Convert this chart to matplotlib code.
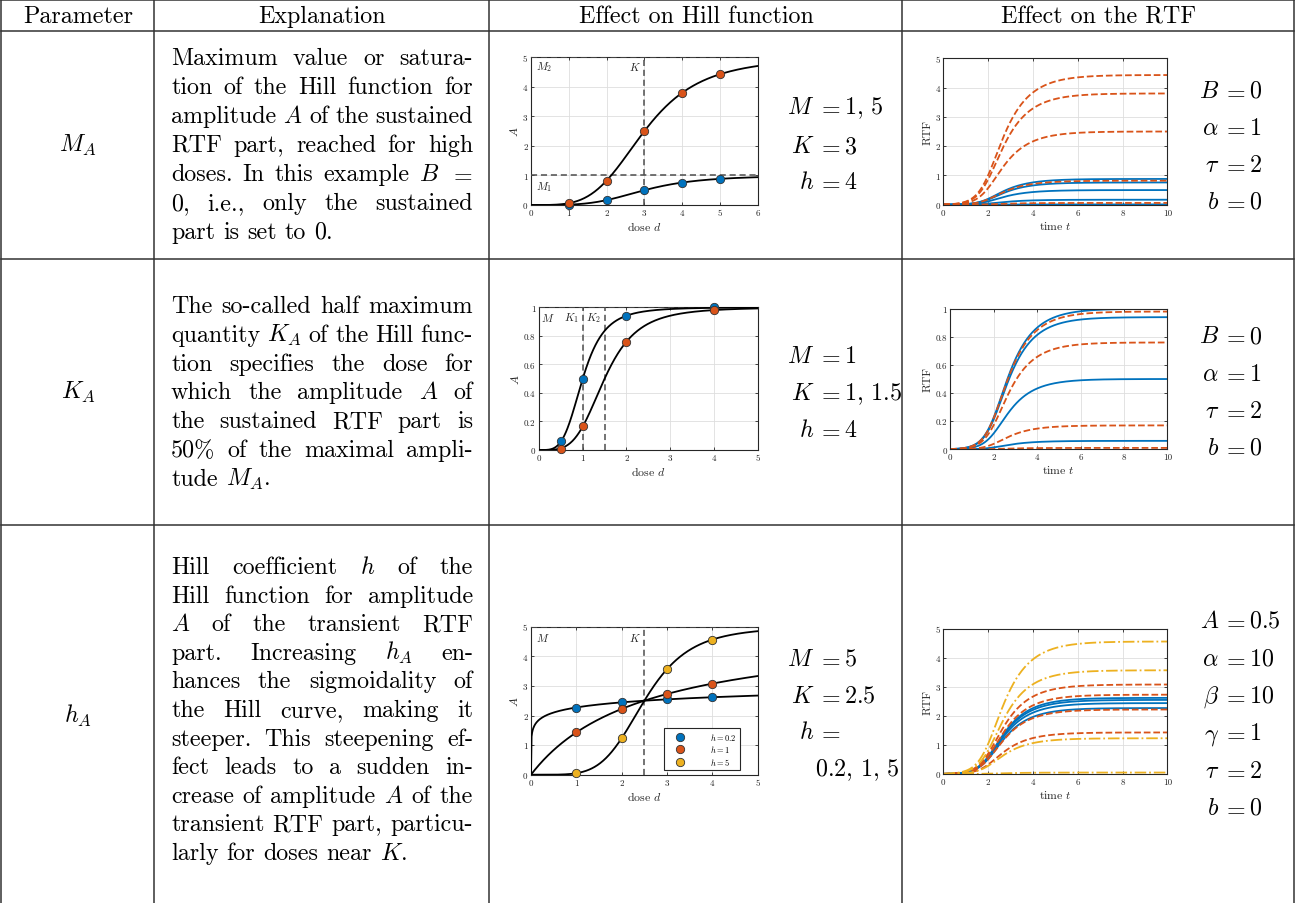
import numpy as np
import matplotlib
matplotlib.use("Agg")
import matplotlib.pyplot as plt
from matplotlib.lines import Line2D

plt.rcParams.update({
    "font.family": ["cmr10", "DejaVu Serif"],
    "mathtext.fontset": "cm",
    "axes.formatter.use_mathtext": True,
    "axes.unicode_minus": False,
})

# ---------------- data ----------------
headers = ["Parameter", "Explanation", "Effect on Hill function", "Effect on the RTF"]
param_names = [r"$M_A$", r"$K_A$", r"$h_A$"]

# Row 1: M varies
h1_M = [1, 5]
h1_K = 3
h1_h = 4
h1_dose = [1, 2, 3, 4, 5]
h1_A_M1 = [0.01, 0.17, 0.5, 0.76, 0.88]
h1_A_M2 = [0.06, 0.82, 2.5, 3.8, 4.43]

# Row 2: K varies
h2_M = 1
h2_K = [1, 1.5]
h2_h = 4
h2_dose = [0.5, 1, 2, 4]
h2_A_K1 = [0.06, 0.5, 0.94, 1.0]
h2_A_K2 = [0.01, 0.17, 0.76, 0.98]

# Row 3: h varies
h3_M = 5
h3_K = 2.5
h3_h = [0.2, 1, 5]
h3_dose = [1, 2, 3, 4]
h3_A_h02 = [2.27, 2.44, 2.55, 2.62]
h3_A_h1 = [1.43, 2.22, 2.73, 3.08]
h3_A_h5 = [0.05, 1.23, 3.57, 4.56]
h3_labels = [r"$h = 0.2$", r"$h = 1$", r"$h = 5$"]

# RTF time-course parameters (shape)
rtf_alpha = 1.0
rtf_tau = 2.0
rtf_sharp = 2.7

expl_rows = [
    ["Maximum value or satura-", "tion of the Hill function for",
     "amplitude $A$ of the sustained", "RTF part, reached for high",
     "doses. In this example $B$ $=$", "0, i.e., only the sustained",
     "part is set to 0."],
    ["The so-called half maximum", "quantity $K_A$ of the Hill func-",
     "tion specifies the dose for", "which the amplitude $A$ of",
     "the sustained RTF part is", "50% of the maximal ampli-",
     "tude $M_A$."],
    ["Hill coefficient $h$ of the", "Hill function for amplitude",
     "$A$ of the transient RTF", "part. Increasing $h_A$ en-",
     "hances the sigmoidality of", "the Hill curve, making it",
     "steeper. This steepening ef-", "fect leads to a sudden in-",
     "crease of amplitude $A$ of the", "transient RTF part, particu-",
     "larly for doses near $K$."],
]

hill_eqs = [
    [("M", r"1,\,5"), ("K", "3"), ("h", "4")],
    [("M", "1"), ("K", r"1,\,1.5"), ("h", "4")],
    [("M", "5"), ("K", "2.5"), ("h", "")],
]
h3_values_text = r"$0.2,\,1,\,5$"
rtf_eqs = [
    [("B", "0"), (r"\alpha", "1"), (r"\tau", "2"), ("b", "0")],
    [("B", "0"), (r"\alpha", "1"), (r"\tau", "2"), ("b", "0")],
    [("A", "0.5"), (r"\alpha", "10"), (r"\beta", "10"), (r"\gamma", "1"),
     (r"\tau", "2"), ("b", "0")],
]

BLUE = "#0072BD"
ORANGE = "#D95319"
YELLOW = "#EDB120"
AXC = "#262626"
REFC = "#4D4D4D"
LINEC = "#333333"

W, H = 1308, 904
fig = plt.figure(figsize=(W / 100, H / 100), dpi=100)
fig.patch.set_facecolor("white")


def fx(x):
    return x / W


def fy(y):
    return 1 - y / H


def hill(d, M, K, h):
    d = np.asarray(d, float)
    return M * d ** h / (d ** h + K ** h)


def rtf_shape(t):
    s = np.log1p(np.exp(rtf_sharp * (t - rtf_tau))) / rtf_sharp
    return 1 - np.exp(-rtf_alpha * s)


# ---------------- table lines ----------------
for y in [1, 31.5, 260, 525.5]:
    fig.add_artist(Line2D([fx(1), fx(1294)], [fy(y), fy(y)], color=LINEC, lw=1.1))
for x in [1, 154, 489, 902, 1294]:
    fig.add_artist(Line2D([fx(x), fx(x)], [fy(1), fy(904)], color=LINEC, lw=1.1))

FS = 17.3
header_x = [78, 322, 696, 1099]
for hx, txt in zip(header_x, headers):
    fig.text(fx(hx), fy(23), txt, fontsize=FS, ha="center", va="baseline")

for y, name in zip([145, 392, 716], param_names):
    fig.text(fx(78), fy(y), name, fontsize=FS, ha="center", va="center")

# ---------------- justified paragraphs ----------------
renderer = fig.canvas.get_renderer()


def paragraph(lines, x0, x1, y0, pitch):
    for i, line in enumerate(lines):
        words = line.split(" ")
        y = y0 + pitch * i
        texts = [fig.text(0, fy(y), w, fontsize=FS, ha="left", va="baseline") for w in words]
        widths = [t.get_window_extent(renderer).width for t in texts]
        if i == len(lines) - 1 or len(words) == 1:
            gap = FS * 100 / 72 * 0.333
        else:
            gap = (x1 - x0 - sum(widths)) / (len(words) - 1)
        x = x0
        for t, wd in zip(texts, widths):
            t.set_x(fx(x))
            x += wd + gap


paragraph(expl_rows[0], 171, 473, 65, 29.0)
paragraph(expl_rows[1], 171, 473, 313, 28.8)
paragraph(expl_rows[2], 171, 473, 574, 28.6)


# ---------------- equation columns ----------------
def eq_block(items, xe, ys):
    for (lhs, rhs), y in zip(items, ys):
        fig.text(fx(xe - 15), fy(y), "$" + lhs + "$", fontsize=FS, ha="right", va="baseline")
        fig.text(fx(xe), fy(y), "$=$", fontsize=FS, ha="center", va="baseline")
        if rhs:
            fig.text(fx(xe + 15), fy(y), "$" + rhs + "$", fontsize=FS, ha="left", va="baseline")


eq_block(hill_eqs[0], 829, [114, 153, 189])
eq_block(hill_eqs[1], 829, [363, 400, 437])
eq_block(hill_eqs[2], 829, [666, 703, 739])
fig.text(fx(815), fy(776), h3_values_text, fontsize=FS, ha="left", va="baseline")

eq_block(rtf_eqs[0], 1234, [98, 135, 172, 209])
eq_block(rtf_eqs[1], 1234, [343, 381, 418, 455])
eq_block(rtf_eqs[2], 1234, [628, 666, 703, 740, 778, 815])


# ---------------- axes helpers ----------------
def add_ax(x0, y0, x1, y1):
    return fig.add_axes([fx(x0), fy(y1), (x1 - x0) / W, (y1 - y0) / H])


def style(ax, xlim, ylim, xticks, yticks, yticklabels, xlabel, ylabel):
    ax.set_xlim(*xlim)
    ax.set_ylim(*ylim)
    ax.set_xticks(xticks)
    ax.set_yticks(yticks)
    ax.set_xticklabels([str(v) for v in xticks])
    ax.set_yticklabels(yticklabels)
    ax.tick_params(direction="in", length=2.5, width=0.6, top=True, right=True,
                   labelsize=6.5, pad=2.5, colors=AXC)
    ax.grid(True, color="#DEDEDE", lw=0.6)
    ax.set_axisbelow(True)
    for sp in ax.spines.values():
        sp.set_color(AXC)
        sp.set_linewidth(0.8)
    ax.set_xlabel(xlabel, fontsize=8.5, labelpad=1.5, color=AXC)
    ax.set_ylabel(ylabel, fontsize=8.5, labelpad=2, color=AXC)


def markers(ax, d, v, c):
    ax.plot(d, v, "o", ms=6, mfc=c, mec="#333333", mew=0.6, zorder=5, clip_on=False)


ref = dict(color=REFC, lw=1.1, ls=(0, (4, 2.5)), zorder=3)
lab = dict(fontsize=8, color=AXC, va="center")

# Row 1 Hill
ax = add_ax(531, 58.3, 757.7, 206)
d = np.linspace(0, 6, 400)
for M in h1_M:
    ax.plot(d, hill(d, M, h1_K, h1_h), color="black", lw=1.3, zorder=4)
ax.axhline(h1_M[1], **ref)
ax.axhline(h1_M[0], **ref)
ax.axvline(h1_K, **ref)
markers(ax, h1_dose, h1_A_M1, BLUE)
markers(ax, h1_dose, h1_A_M2, ORANGE)
ax.text(0.13, 4.7, r"$M_2$", **lab)
ax.text(2.6, 4.7, r"$K$", **lab)
ax.text(0.13, 0.65, r"$M_1$", **lab)
style(ax, (0, 6), (0, 5), [0, 1, 2, 3, 4, 5, 6], [0, 1, 2, 3, 4, 5],
      ["0", "1", "2", "3", "4", "5"], r"dose $d$", r"$A$")

# Row 1 RTF
t = np.linspace(0, 10, 400)
ax = add_ax(943.3, 59.3, 1167.3, 205.7)
for v in h1_A_M1:
    ax.plot(t, v * rtf_shape(t), color=BLUE, lw=1.3)
for v in h1_A_M2:
    ax.plot(t, v * rtf_shape(t), color=ORANGE, lw=1.3, ls="--")
style(ax, (0, 10), (0, 5), [0, 2, 4, 6, 8, 10], [0, 1, 2, 3, 4, 5],
      ["0", "1", "2", "3", "4", "5"], r"time $t$", "RTF")

# Row 2 Hill
ax = add_ax(539, 308.3, 757.7, 451)
d = np.linspace(0, 5, 400)
for K in h2_K:
    ax.plot(d, hill(d, h2_M, K, h2_h), color="black", lw=1.3, zorder=4)
ax.axhline(h2_M, **ref)
for K in h2_K:
    ax.axvline(K, **ref)
markers(ax, h2_dose, h2_A_K1, BLUE)
markers(ax, h2_dose, h2_A_K2, ORANGE)
ax.text(0.05, 0.93, r"$M$", **lab)
ax.text(0.57, 0.93, r"$K_1$", **lab)
ax.text(1.07, 0.93, r"$K_2$", **lab)
style(ax, (0, 5), (0, 1), [0, 1, 2, 3, 4, 5], [0, 0.2, 0.4, 0.6, 0.8, 1],
      ["0", "0.2", "0.4", "0.6", "0.8", "1"], r"dose $d$", r"$A$")

# Row 2 RTF
ax = add_ax(950.3, 309.7, 1167.3, 450.3)
for v in h2_A_K1:
    ax.plot(t, v * rtf_shape(t), color=BLUE, lw=1.3)
for v in h2_A_K2:
    ax.plot(t, v * rtf_shape(t), color=ORANGE, lw=1.3, ls="--")
style(ax, (0, 10), (0, 1), [0, 2, 4, 6, 8, 10], [0, 0.2, 0.4, 0.6, 0.8, 1],
      ["0", "0.2", "0.4", "0.6", "0.8", "1"], r"time $t$", "RTF")

# Row 3 Hill
ax = add_ax(531, 627.7, 757.7, 775.7)
for h in h3_h:
    ax.plot(d, hill(d, h3_M, h3_K, h), color="black", lw=1.3, zorder=4)
ax.axhline(h3_M, **ref)
ax.axvline(h3_K, **ref)
markers(ax, h3_dose, h3_A_h02, BLUE)
markers(ax, h3_dose, h3_A_h1, ORANGE)
markers(ax, h3_dose, h3_A_h5, YELLOW)
ax.text(0.11, 4.66, r"$M$", **lab)
ax.text(2.16, 4.66, r"$K$", **lab)
handles = [Line2D([], [], ls="none", marker="o", ms=6, mfc=c, mec="#333333", mew=0.6)
           for c in [BLUE, ORANGE, YELLOW]]
leg = ax.legend(handles, h3_labels, loc="lower right", bbox_to_anchor=(0.922, 0.032),
                borderaxespad=0, fontsize=6, frameon=True, fancybox=False,
                edgecolor=AXC, framealpha=1, handlelength=3.2, handletextpad=2.0,
                borderpad=0.4, labelspacing=0.15)
leg.get_frame().set_linewidth(0.8)
style(ax, (0, 5), (0, 5), [0, 1, 2, 3, 4, 5], [0, 1, 2, 3, 4, 5],
      ["0", "1", "2", "3", "4", "5"], r"dose $d$", r"$A$")

# Row 3 RTF
ax = add_ax(943.3, 629.7, 1167.3, 775)
for v in h3_A_h02:
    ax.plot(t, v * rtf_shape(t), color=BLUE, lw=1.3)
for v in h3_A_h1:
    ax.plot(t, v * rtf_shape(t), color=ORANGE, lw=1.3, ls="--")
for v in h3_A_h5:
    ax.plot(t, v * rtf_shape(t), color=YELLOW, lw=1.3, ls="-.")
style(ax, (0, 10), (0, 5), [0, 2, 4, 6, 8, 10], [0, 1, 2, 3, 4, 5],
      ["0", "1", "2", "3", "4", "5"], r"time $t$", "RTF")

fig.savefig("out.png", dpi=100)
